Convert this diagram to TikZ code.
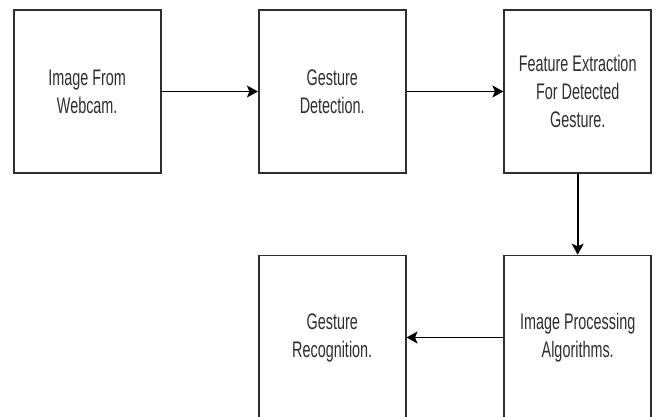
\documentclass[tikz,border=0pt]{standalone}
\usepackage{fontspec}
\setmainfont{Liberation Sans}[FakeStretch=0.64]
\usetikzlibrary{arrows.meta}
\definecolor{ink}{HTML}{2E2E2E}
\begin{document}
\begin{tikzpicture}[x=1pt,y=-1pt,
  stepbox/.style={draw=ink, line width=1.6pt, fill=white, minimum width=147pt, minimum height=163pt,
    inner sep=0pt, align=center, text=ink, font=\fontsize{22.5}{28}\selectfont},
  link/.style={draw=black, line width=1.6pt, -{Stealth[length=11pt,width=12pt,inset=2.5pt]}}]
\useasboundingbox (0,0) rectangle (656,416);
\node[stepbox] (webcam) at (87.2,91.5) {Image From\\Webcam.};
\node[stepbox] (detect) at (332.2,91.5) {Gesture\\Detection.};
\node[stepbox] (feature) at (577.7,91.5) {Feature Extraction\\For Detected\\Gesture.};
\node[stepbox, minimum height=164pt] (improc) at (577.7,337.5) {Image Processing\\Algorithms.};
\node[stepbox, minimum height=164pt] (recog) at (332.2,337.5) {Gesture\\Recognition.};
\draw[link] (webcam) -- (detect);
\draw[link] (detect) -- (feature);
\draw[link] (feature) -- (improc);
\draw[link] (improc) -- (recog);
\end{tikzpicture}
\end{document}
